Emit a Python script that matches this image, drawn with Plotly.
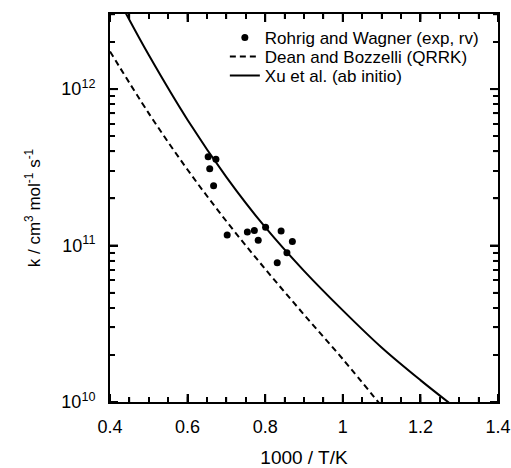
import math
import plotly.graph_objects as go

# Experimental rate constants (Rohrig and Wagner)
exp_inv_t = [0.653, 0.673, 0.657, 0.667, 0.702, 0.754, 0.772, 0.782, 0.801, 0.841, 0.870, 0.856, 0.831]
exp_k = [3.69e11, 3.56e11, 3.10e11, 2.41e11, 1.17e11, 1.22e11, 1.25e11, 1.08e11, 1.31e11, 1.24e11, 1.06e11, 9.0e10, 7.76e10]

# QRRK estimate (Dean and Bozzelli)
qrrk_inv_t = [0.4, 0.5, 0.6, 0.7, 0.8, 0.9, 1.0, 1.1]
qrrk_k = [1.74e12, 7.00e11, 3.05e11, 1.43e11, 7.08e10, 3.62e10, 1.88e10, 9.4e9]

# Ab initio result (Xu et al.)
abi_inv_t = [0.44, 0.5, 0.6, 0.7, 0.8, 0.9, 1.0, 1.1, 1.2, 1.3]
abi_k = [3.08e12, 1.65e12, 6.35e11, 2.74e11, 1.31e11, 6.89e10, 3.85e10, 2.23e10, 1.38e10, 8.8e9]

x_ticks = [0.4, 0.6, 0.8, 1.0, 1.2, 1.4]
x_tick_labels = ["0.4", "0.6", "0.8", "1", "1.2", "1.4"]
y_ticks = [1e10, 1e11, 1e12]
y_tick_labels = ["10<sup>10</sup>", "10<sup>11</sup>", "10<sup>12</sup>"]

x_range = [0.4, 1.4]
y_range = [10, 12.48]  # log10 units

font_family = "Liberation Sans, Arial, sans-serif"

# plot-area size in pixels (figure minus margins)
plot_w = 511 - 110 - 13
plot_h = 468 - 14 - 66

fig = go.Figure()
fig.add_trace(go.Scatter(
    x=exp_inv_t, y=exp_k, mode="markers",
    marker=dict(color="black", size=7),
    name="Rohrig and Wagner (exp, rv)", legend="legend",
))
fig.add_trace(go.Scatter(
    x=qrrk_inv_t, y=qrrk_k, mode="lines", line_shape="spline",
    line=dict(color="black", width=2, dash="6px,4px"),
    name="Dean and Bozzelli (QRRK)", legend="legend2",
))
fig.add_trace(go.Scatter(
    x=abi_inv_t, y=abi_k, mode="lines", line_shape="spline",
    line=dict(color="black", width=2),
    name="Xu et al. (ab initio)", legend="legend3",
))

axis_common = dict(
    showline=True, linecolor="black", linewidth=2, mirror="allticks",
    ticks="inside", tickcolor="black", tickwidth=2, ticklen=8,
    showgrid=False, zeroline=False, automargin=False,
    tickfont=dict(size=18, color="black", family=font_family),
)

# minor tick positions
x_minor = [round(0.4 + 0.05 * i, 2) for i in range(21)]
y_minor = [m * 10 ** e for e in (10, 11, 12) for m in range(2, 10)
           if math.log10(m * 10 ** e) <= y_range[1]]

fig.update_xaxes(
    range=x_range, tickmode="array", tickvals=x_ticks, ticktext=x_tick_labels,
    ticklabelstandoff=7,
    title=dict(text="1000 / T/K", font=dict(size=19, color="black", family=font_family), standoff=16),
    minor=dict(tickmode="array", tickvals=x_minor, ticks="inside", ticklen=5,
               tickcolor="black", tickwidth=1.5, showgrid=False),
    **axis_common,
)
fig.update_yaxes(
    type="log", range=y_range, tickmode="array", tickvals=y_ticks, ticktext=y_tick_labels,
    ticklabelstandoff=9,
    title=dict(text="k / cm<sup>3</sup> mol<sup>-1</sup> s<sup>-1</sup>",
               font=dict(size=17, color="black", family=font_family), standoff=16),
    minor=dict(tickmode="array", tickvals=y_minor, ticks="inside", ticklen=5,
               tickcolor="black", tickwidth=1.5, showgrid=False),
    **axis_common,
)


# inward tick marks on all four sides of the frame
def x_tick_shapes(values, length, width):
    h = length / plot_h
    out = []
    for v in values:
        frac = (v - x_range[0]) / (x_range[1] - x_range[0])
        for y0, y1 in ((0, h), (1, 1 - h)):
            out.append(dict(
                type="line", xref="paper", yref="paper",
                x0=frac, x1=frac, y0=y0, y1=y1,
                line=dict(color="black", width=width), layer="above",
            ))
    return out


def y_tick_shapes(values, length, width):
    w = length / plot_w
    out = []
    for v in values:
        frac = (math.log10(v) - y_range[0]) / (y_range[1] - y_range[0])
        for x0, x1 in ((0, w), (1, 1 - w)):
            out.append(dict(
                type="line", xref="paper", yref="paper",
                x0=x0, x1=x1, y0=frac, y1=frac,
                line=dict(color="black", width=width), layer="above",
            ))
    return out


tick_shapes = (x_tick_shapes(x_ticks, 8, 2) + x_tick_shapes(x_minor, 5, 1.5)
               + y_tick_shapes(y_ticks, 8, 2) + y_tick_shapes(y_minor, 5, 1.5))

legend_style = dict(
    xanchor="left", yanchor="middle", x=0.296,
    bgcolor="rgba(0,0,0,0)", font=dict(size=17, color="black", family=font_family),
    itemwidth=30,
)


def row_y(py):
    # convert a pixel row inside the plot area to paper coordinates
    return 1 - (py - 14) / plot_h


fig.update_layout(
    width=511, height=468,
    margin=dict(l=110, r=13, t=14, b=66, autoexpand=False),
    paper_bgcolor="white", plot_bgcolor="white",
    font=dict(family=font_family, color="black"),
    showlegend=True,
    legend=dict(y=row_y(38), **legend_style),
    legend2=dict(y=row_y(57), **legend_style),
    legend3=dict(y=row_y(76), **legend_style),
    shapes=tick_shapes,
)

fig.write_html("out.html")
